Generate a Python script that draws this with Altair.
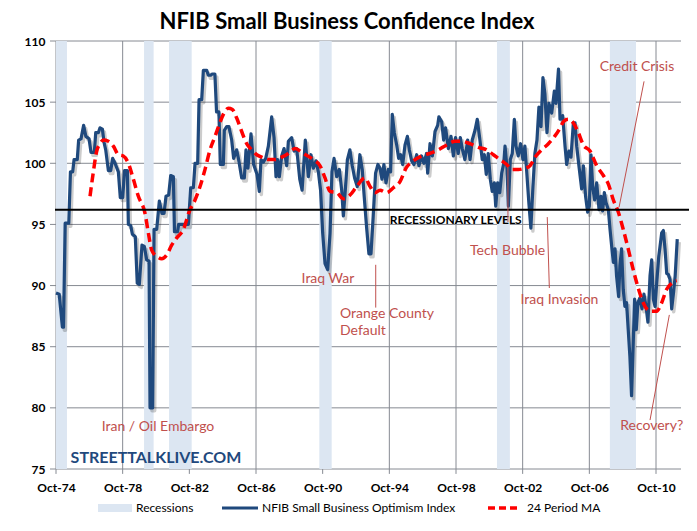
import altair as alt
import pandas as pd

# ---------------- data ----------------
title_text = "NFIB Small Business Confidence Index"

# x position = month index counted from Oct-1974 (category axis of monthly data)
tick_months = [0, 48, 96, 144, 192, 240, 288, 336, 384, 432]
tick_labels = ["Oct-74", "Oct-78", "Oct-82", "Oct-86", "Oct-90",
               "Oct-94", "Oct-98", "Oct-02", "Oct-06", "Oct-10"]
y_ticks = [75, 80, 85, 90, 95, 100, 105, 110]

idx_month = [0, 2.3, 4.6, 5.4, 6.6, 9.2, 10.4, 12, 13, 15.3, 16.3, 18, 19.9, 21.5, 23.8,
             25.2, 27.6, 28.6, 30.5, 31.7, 33.4, 34.6, 35.8, 37.7, 39.4, 40.8, 42.5, 44.9,
             46.3, 48, 49.4, 51.4, 52.1, 53.8, 55, 57.1, 58.5, 60, 61.9, 63.6, 65.3, 67,
             67.7, 69.6, 70.6, 72.5, 74.4, 76.3, 77.8, 79.2, 81.1, 82.6, 84.5, 85.3, 87.5,
             88.3, 95.3, 97, 98.9, 100.1, 102, 103, 104.9, 106.1, 108.5, 109.7, 111.4, 112.5,
             114.4, 115.6, 117.3, 118.3, 120.5, 121.2, 122.9, 124.5, 126.5, 127.9, 130.1,
             131.5, 133.7, 135.6, 136.8, 138.2, 140.4, 142.3, 144.7, 146.4, 147.6, 149.3,
             151, 152.9, 155.3, 157, 158.4, 159.6, 160.8, 162.5, 164.2, 166.1, 167.3, 169.7,
             171.4, 173.3, 175.5, 177.2, 179.5, 181.7, 183.6, 185.3, 187.2, 188.9, 190.5,
             192, 193.7, 195.6, 197.3, 198.7, 200.2, 202.1, 204, 205.7, 206.9, 208.3, 209.8,
             211.6, 213.3, 215, 216.9, 218.8, 220.5, 221.9, 223.6, 225.3, 226.8, 228.4,
             230.1, 231.8, 233.3, 234.7, 236.1, 237.6, 239.3, 240.9, 242.1, 243.6, 245.3,
             246.7, 248.1, 249.6, 251.3, 253, 254.4, 256.1, 257.7, 259.7, 261.3, 263.2,
             264.9, 266.8, 267.6, 269.3, 271, 272.9, 274.8, 275.7, 277.7, 279.1, 280.5,
             282.5, 284.4, 286.1, 287.7, 289.6, 291.1, 292.5, 294.4, 296.4, 298.1, 299.7,
             301.7, 303.3, 305, 306.9, 308.4, 309.8, 311.2, 312.7, 314.1, 315.6, 316.6, 318,
             319.5, 320.9, 322.4, 323.3, 324.8, 325.7, 327.1, 328.5, 330, 331.2, 332.8,
             334.5, 336.2, 337.6, 338.8, 340.5, 341.9, 343.4, 344.8, 346.3, 347.7, 349.2,
             350.6, 352, 353.5, 354.9, 356.9, 358.8, 360, 361.8, 362.9, 364.8, 366.5, 367.7,
             369.3, 370.8, 372.5, 373.7, 374.9, 376.5, 378.5, 379.7, 381.3, 382.8, 384,
             385.2, 386.4, 387.8, 389.3, 391, 392.4, 393.6, 394.8, 396, 397.7, 398.9, 400.1,
             401.3, 402.5, 403.6, 405.1, 406, 407.2, 408.4, 409.6, 410.8, 412, 413.2, 414.4,
             415.6, 416.6, 417.8, 419, 420.4, 421.9, 423.3, 424.8, 426.2, 427.7, 428.9,
             430.1, 431.3, 432.5, 434, 434.9, 436.1, 437.3, 438.5, 439.7, 440.9, 442.1,
             443.3, 444.6, 445.8, 447.3]
idx_value = [89.4, 89.3, 86.6, 86.6, 95.1, 95.1, 99.3, 99.3, 100.3, 100.3, 101.9, 102.0, 103.1,
             102.2, 102.0, 100.9, 100.9, 102.5, 102.5, 102.9, 102.8, 101.7, 101.1, 99.4, 99.4,
             100.4, 100.0, 99.3, 97.2, 97.2, 99.4, 99.4, 95.0, 94.9, 94.2, 94.0, 90.2, 90.1,
             93.3, 93.2, 92.1, 92.0, 80.0, 80.0, 94.6, 94.6, 96.9, 95.9, 95.9, 97.3, 97.4,
             99.0, 98.9, 94.4, 94.4, 95.0, 95.0, 98.0, 98.0, 100.0, 100.0, 105.2, 105.2,
             107.6, 107.6, 107.2, 107.2, 107.3, 107.3, 104.2, 104.2, 99.9, 99.9, 102.7, 103.0,
             103.0, 101.9, 100.4, 101.1, 100.3, 98.8, 98.8, 101.1, 99.6, 102.4, 99.9, 99.1,
             97.7, 100.3, 100.1, 100.4, 101.4, 103.8, 102.1, 98.9, 100.3, 98.9, 100.6, 101.2,
             99.8, 101.8, 102.1, 101.0, 101.2, 98.7, 97.8, 101.9, 98.9, 100.7, 99.6, 100.2,
             99.3, 97.8, 94.3, 91.8, 91.3, 94.3, 99.3, 100.4, 98.9, 99.5, 97.8, 95.7, 97.8,
             100.3, 101.1, 99.8, 98.8, 98.1, 100.7, 99.5, 97.3, 94.8, 92.6, 92.6, 95.7, 99.2,
             99.9, 99.6, 98.7, 99.9, 98.4, 99.5, 99.3, 104.0, 102.5, 101.5, 100.4, 100.7,
             99.9, 101.5, 102.2, 101.1, 100.2, 99.9, 100.7, 99.8, 100.6, 100.0, 100.8, 99.2,
             101.6, 100.6, 102.6, 103.1, 103.8, 103.4, 101.9, 102.9, 101.2, 102.2, 100.6,
             102.1, 100.8, 102.1, 101.2, 100.3, 101.9, 100.3, 101.9, 102.7, 103.6, 102.1,
             100.3, 100.7, 99.1, 100.8, 98.7, 97.7, 98.4, 96.5, 98.4, 97.6, 99.2, 100.0,
             101.4, 99.5, 96.5, 100.3, 100.8, 103.6, 101.4, 100.6, 101.6, 100.3, 101.4, 99.5,
             96.7, 94.7, 98.1, 100.8, 101.9, 104.6, 103.0, 107.0, 105.7, 102.5, 104.9, 104.1,
             105.9, 104.9, 107.7, 103.6, 103.9, 101.4, 99.9, 101.0, 100.5, 103.3, 103.3,
             101.4, 99.8, 97.9, 99.8, 97.3, 96.0, 96.5, 100.7, 98.1, 97.0, 98.4, 96.2, 97.3,
             96.1, 97.6, 96.8, 96.2, 94.6, 93.2, 91.9, 93.0, 90.8, 89.1, 91.6, 93.0, 89.7,
             88.3, 88.6, 86.4, 84.2, 81.0, 85.3, 88.9, 86.4, 88.6, 89.0, 88.1, 89.3, 88.3,
             87.0, 90.8, 92.1, 88.9, 88.3, 90.2, 92.4, 93.2, 94.3, 94.5, 93.0, 91.0, 90.9,
             90.5, 88.1, 89.4, 90.8, 93.8]

ma_month = [24.5, 26.9, 29.3, 31.7, 34.1, 37.7, 41.3, 44.9, 48.5, 52.1, 55.7, 59.3, 64.1, 66.5,
            68.9, 72.5, 76.1, 79.7, 83.3, 86.9, 91.7, 96.1, 100.1, 103.7, 107.3, 110.9, 114.5,
            117, 120.5, 124.1, 127, 130.1, 133.7, 137.3, 140.9, 144.5, 148.1, 152.9, 157.7,
            162.5, 167.3, 172.1, 178.1, 185.3, 190.1, 193.7, 197.3, 202.1, 206.9, 211.7,
            216.5, 222.5, 226.1, 229.7, 233.3, 238.1, 242.9, 247.7, 252, 257.3, 263.2, 268.7,
            275.3, 281.3, 287.3, 292.1, 298.1, 304.1, 310.1, 314.9, 319.7, 324.5, 328.1,
            332.9, 337.7, 341.3, 344.9, 349.7, 354.5, 359, 363, 365.3, 368.8, 372.5, 376.1,
            379.7, 384.5, 389.3, 394.1, 397.7, 401.3, 404.9, 408.4, 412, 415.6, 419.2, 422.8,
            427.7, 432.5, 436.1, 439.7, 443.3, 446.9]
ma_value = [97.3, 99.3, 101.0, 101.6, 101.9, 101.8, 101.4, 100.7, 100.6, 100.0, 98.7, 97.3, 95.9,
            94.3, 92.9, 92.4, 92.2, 92.5, 93.3, 93.9, 94.6, 96.1, 97.0, 98.1, 99.5, 101.1,
            102.2, 103.0, 104.0, 104.5, 104.4, 103.7, 102.6, 101.6, 101.1, 100.7, 100.5,
            100.3, 100.3, 100.5, 100.8, 101.2, 100.8, 100.3, 99.8, 98.8, 97.7, 97.6, 97.1,
            97.4, 98.1, 98.8, 98.1, 97.6, 97.8, 97.6, 98.0, 98.5, 99.6, 100.2, 100.6, 100.8,
            101.1, 101.5, 101.8, 101.8, 101.6, 101.3, 101.1, 100.7, 100.3, 99.9, 99.5, 99.5,
            99.6, 99.8, 100.5, 101.1, 101.6, 102.2, 102.9, 103.4, 103.6, 103.3, 102.5, 101.5,
            101.0, 99.8, 99.0, 98.3, 97.0, 96.0, 94.6, 93.0, 91.3, 89.8, 88.6, 87.9, 87.9,
            88.6, 89.7, 90.2, 90.4]

rec_start = [0, 63.4, 81.4, 189.6, 317.5, 398.8]
rec_end = [7.9, 70.3, 97.7, 198.5, 326.8, 417.6]

recession_level = 96.2
recession_label = "RECESSIONARY LEVELS"

ann_center_text = ["Iran / Oil Embargo", "Iraq War", "Tech Bubble", "Iraq Invasion",
                   "Credit Crisis", "Recovery?"]
ann_center_month = [73.4, 195.8, 325.1, 362.5, 418.3, 428.9]
ann_center_value = [78.4, 90.5, 92.8, 88.8, 107.9, 78.5]

ann_left_text = ["Orange County", "Default"]
ann_left_month = [204.5, 204.5]
ann_left_value = [87.7, 86.3]

lead_m1 = [230.2, 325.4, 353.7, 423.4, 441.6]
lead_v1 = [91.7, 99.7, 95.6, 106.7, 87.6]
lead_m2 = [230.2, 325.4, 355.2, 405.4, 427.7]
lead_v2 = [88.2, 95.2, 89.8, 96.4, 79.0]

legend_labels = ["Recessions", "NFIB Small Business Optimism Index", "24 Period MA"]
watermark = "STREETTALKLIVE.COM"

# ---------------- styling ----------------
W, H = 625, 428
FONT = "Lato"
NAVY = "#1F497D"
RED = "#FF0000"
ANN = "#C0504D"
BAND = "#DCE6F2"
GRID = "#868A92"

xs = alt.Scale(domain=[0, 450], nice=False, zero=False)
ys = alt.Scale(domain=[75, 110], nice=False, zero=False)

label_expr = "[" + ",".join("'%s'" % t for t in tick_labels) + "][round(datum.value/48)]"

X_AXIS = alt.Axis(values=tick_months, labelExpr=label_expr, grid=False, domain=False,
                  ticks=False, labelPadding=13, labelFont=FONT, labelFontSize=12,
                  labelFontWeight="bold", labelColor="#000000", labelFlush=False, title=None)
Y_AXIS = alt.Axis(values=y_ticks, grid=False, domain=False, ticks=False, labelPadding=11,
                  labelFont=FONT, labelFontSize=12, labelFontWeight="bold",
                  labelColor="#000000", title=None)


def X(f):
    return alt.X(f, scale=xs, axis=X_AXIS, title=None)


def Y(f):
    return alt.Y(f, scale=ys, axis=Y_AXIS, title=None)


idx_df = pd.DataFrame({"m": idx_month, "v": idx_value})
ma_df = pd.DataFrame({"m": ma_month, "v": ma_value})
rec_df = pd.DataFrame({"s": rec_start, "e": rec_end, "lo": [75] * len(rec_start),
                       "hi": [110] * len(rec_start)})
xg_df = pd.DataFrame({"gm": [float(t) for t in tick_months],
                      "g0": [74.6] * len(tick_months), "g1": [110.0] * len(tick_months)})
yg_df = pd.DataFrame({"gv": [float(t) for t in y_ticks],
                      "h0": [-4.3] * len(y_ticks), "h1": [450.0] * len(y_ticks)})

bands = alt.Chart(rec_df).mark_rect(color=BAND).encode(
    x=X("s:Q"), x2="e:Q", y=Y("lo:Q"), y2="hi:Q")

# gridlines + ticks as rule marks
x_grid = alt.Chart(xg_df).mark_rule(color=GRID, strokeWidth=1).encode(
    x=X("gm:Q"), y=Y("g0:Q"), x2="gm:Q", y2="g1:Q")
y_grid = alt.Chart(yg_df).mark_rule(color=GRID, strokeWidth=1).encode(
    x=X("h0:Q"), y=Y("gv:Q"), x2="h1:Q", y2="gv:Q")

shadow = alt.Chart(idx_df).mark_line(color="#000000", opacity=0.2, strokeWidth=3.5,
                                     xOffset=2, yOffset=3, strokeJoin="round").encode(
    x=X("m:Q"), y=Y("v:Q"))

index_line = alt.Chart(idx_df).mark_line(color=NAVY, strokeWidth=3.2, strokeJoin="round").encode(
    x=X("m:Q"), y=Y("v:Q"))

ma_line = alt.Chart(ma_df).mark_line(color=RED, strokeWidth=3.5, strokeDash=[9, 5],
                                     interpolate="monotone").encode(
    x=X("m:Q"), y=Y("v:Q"))

level_df = pd.DataFrame({"v": [recession_level]})
level_rule = alt.Chart(level_df).mark_rule(color="#000000", strokeWidth=2).encode(
    y=Y("v:Q"), x=alt.value(-1), x2=alt.value(636))

level_text = alt.Chart(pd.DataFrame({"m": [287.8], "v": [95.35], "t": [recession_label]})).mark_text(
    font=FONT, fontSize=12, fontWeight="bold", color="#000000", align="center",
    baseline="middle").encode(x=X("m:Q"), y=Y("v:Q"), text="t:N")

lead_df = pd.DataFrame({"m1": lead_m1, "v1": lead_v1, "m2": lead_m2, "v2": lead_v2})
leads = alt.Chart(lead_df).mark_rule(color=ANN, strokeWidth=1).encode(
    x=X("m1:Q"), y=Y("v1:Q"), x2="m2:Q", y2="v2:Q")

ann_c = alt.Chart(pd.DataFrame({"m": ann_center_month, "v": ann_center_value,
                                "t": ann_center_text})).mark_text(
    font=FONT, fontSize=14, color=ANN, align="center", baseline="middle").encode(
    x=X("m:Q"), y=Y("v:Q"), text="t:N")

ann_l = alt.Chart(pd.DataFrame({"m": ann_left_month, "v": ann_left_value,
                                "t": ann_left_text})).mark_text(
    font=FONT, fontSize=14, color=ANN, align="left", baseline="middle").encode(
    x=X("m:Q"), y=Y("v:Q"), text="t:N")

wm = alt.Chart(pd.DataFrame({"t": [watermark]})).mark_text(
    font=FONT, fontSize=16, fontWeight="bold", color=NAVY, align="center",
    baseline="middle").encode(x=alt.value(100), y=alt.value(417), text="t:N")

title = alt.Chart(pd.DataFrame({"t": [title_text]})).mark_text(
    font=FONT, fontSize=22, fontWeight="bold", color="#000000", align="center",
    baseline="middle").encode(x=alt.value(291), y=alt.value(-19), text="t:N")

# legend (drawn with marks)
LY = 467
leg_df = pd.DataFrame({"t": legend_labels})
leg_rect = alt.Chart(leg_df.iloc[[0]]).mark_rect(color=BAND).encode(
    x=alt.value(42), x2=alt.value(76), y=alt.value(LY - 4), y2=alt.value(LY + 4))
leg_line = alt.Chart(leg_df.iloc[[1]]).mark_rule(color=NAVY, strokeWidth=3).encode(
    x=alt.value(166), x2=alt.value(202), y=alt.value(LY))
leg_dash = alt.Chart(leg_df.iloc[[2]]).mark_rule(color=RED, strokeWidth=3.5,
                                                 strokeDash=[7, 4]).encode(
    x=alt.value(432), x2=alt.value(464), y=alt.value(LY))
leg_t0 = alt.Chart(leg_df.iloc[[0]]).mark_text(font=FONT, fontSize=12, align="left",
                                              baseline="middle", color="#000000").encode(
    x=alt.value(80), y=alt.value(LY), text="t:N")
leg_t1 = alt.Chart(leg_df.iloc[[1]]).mark_text(font=FONT, fontSize=12, align="left",
                                              baseline="middle", color="#000000").encode(
    x=alt.value(206), y=alt.value(LY), text="t:N")
leg_t2 = alt.Chart(leg_df.iloc[[2]]).mark_text(font=FONT, fontSize=12, align="left",
                                              baseline="middle", color="#000000").encode(
    x=alt.value(471), y=alt.value(LY), text="t:N")

chart = alt.layer(
    x_grid, y_grid, bands, shadow, index_line, ma_line, level_rule,
    level_text, leads, ann_c, ann_l, wm, title,
    leg_rect, leg_line, leg_dash, leg_t0, leg_t1, leg_t2,
).properties(
    width=W, height=H,
    autosize=alt.AutoSizeParams(type="none"),
    padding={"left": 48, "top": 33, "right": 8, "bottom": 50},
    background="#FFFFFF",
).configure_view(stroke=None)

chart.save("out.html", embed_options={"renderer": "svg", "actions": False})
